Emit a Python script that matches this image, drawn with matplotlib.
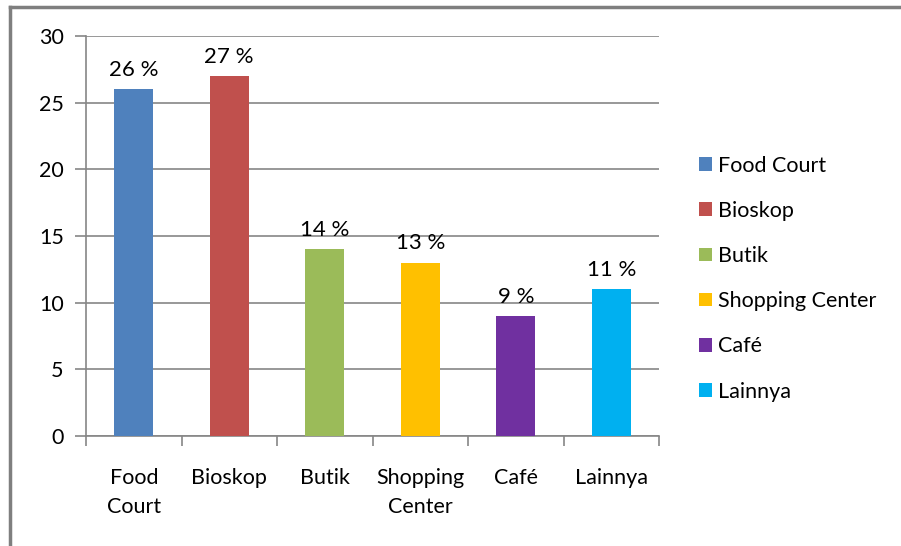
import matplotlib
matplotlib.use("Agg")
import matplotlib.pyplot as plt
from matplotlib.lines import Line2D
from matplotlib.patches import Patch

categories = ["Food Court", "Bioskop", "Butik", "Shopping Center", "Café", "Lainnya"]
tick_labels = ["Food\nCourt", "Bioskop", "Butik", "Shopping\nCenter", "Café", "Lainnya"]
values = [26, 27, 14, 13, 9, 11]
bar_labels = ["26 %", "27 %", "14 %", "13 %", "9 %", "11 %"]
colors = ["#4F81BD", "#C0504D", "#9BBB59", "#FFC000", "#7030A0", "#00B0F0"]

plt.rcParams['font.family'] = ['Lato', 'DejaVu Sans']
FS = 15.5

fig = plt.figure(figsize=(9.01, 5.46), dpi=100)
ax = fig.add_axes([86/901, 1-436/546, (659-86)/901, 400/546])

x = list(range(len(categories)))
bars = ax.bar(x, values, width=0.41, color=colors, zorder=3)
for b, lab in zip(bars, bar_labels):
    ax.text(b.get_x() + b.get_width()/2, b.get_height() + 0.7, lab,
            ha='center', va='bottom', fontsize=16, color='#000000')

ax.set_xlim(-0.5, len(categories) - 0.5)
ax.set_ylim(0, 30)
ax.set_yticks([0, 5, 10, 15, 20, 25, 30])
ax.yaxis.grid(True, color='#868686', linewidth=1.2, zorder=0)
ax.set_axisbelow(True)
for s in ['top', 'right']:
    ax.spines[s].set_visible(False)
ax.spines['left'].set_color('#868686')
ax.spines['bottom'].set_color('#868686')
ax.spines['left'].set_linewidth(1.2)
ax.spines['bottom'].set_linewidth(1.2)
ax.tick_params(axis='y', length=8, color='#868686', width=1.2, labelsize=FS, pad=8)
ax.set_xticks([i - 0.5 for i in range(len(categories) + 1)], minor=False)
ax.set_xticklabels([])
ax.tick_params(axis='x', length=7, color='#868686', width=1.2)
ax.set_xticks(x, minor=True)
ax.set_xticklabels(tick_labels, minor=True, fontsize=FS, linespacing=1.55)
ax.tick_params(axis='x', which='minor', length=0, pad=23)

handles = [Patch(facecolor=c, edgecolor='none') for c in colors]
leg = fig.legend(handles, categories, loc='upper left', bbox_to_anchor=(690/901, 1-147/546),
                 frameon=False, fontsize=FS, handlelength=0.6, handleheight=0.6,
                 handletextpad=0.3, labelspacing=1.17, borderaxespad=0)

fig.add_artist(Line2D([10/901, 10/901], [0, 1-7/546], transform=fig.transFigure,
                      color='#7F7F7F', linewidth=2.5))
fig.add_artist(Line2D([10/901, 1], [1-7/546, 1-7/546], transform=fig.transFigure,
                      color='#7F7F7F', linewidth=2.5))

fig.savefig("out.png", dpi=100)
